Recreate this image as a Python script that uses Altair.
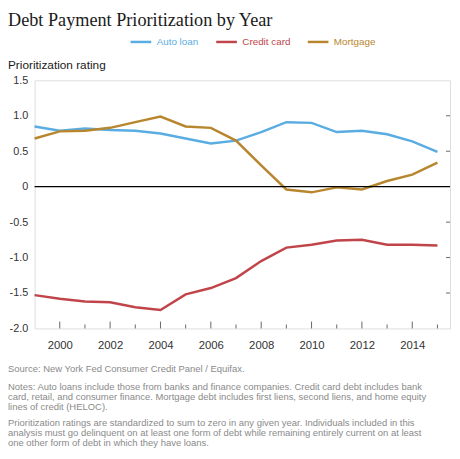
import altair as alt
import pandas as pd

years = list(range(1999, 2016))
auto_loan = [0.85, 0.79, 0.82, 0.80, 0.79, 0.75, 0.68, 0.61, 0.65, 0.77, 0.91, 0.90, 0.77, 0.79, 0.74, 0.64, 0.49]
credit_card = [-1.53, -1.58, -1.62, -1.63, -1.70, -1.74, -1.52, -1.43, -1.29, -1.05, -0.86, -0.82, -0.76, -0.75, -0.82, -0.82, -0.83]
mortgage = [0.68, 0.78, 0.79, 0.83, 0.91, 0.99, 0.85, 0.83, 0.65, 0.30, -0.04, -0.08, -0.01, -0.04, 0.08, 0.17, 0.34]

series_names = ["Auto loan", "Credit card", "Mortgage"]
series_colors = ["#5aade2", "#c0454a", "#b8862e"]
y_ticks = [-2.0, -1.5, -1.0, -0.5, 0.0, 0.5, 1.0, 1.5]
x_label_years = [2000, 2002, 2004, 2006, 2008, 2010, 2012, 2014]

title_text = "Debt Payment Prioritization by Year"
y_title = "Prioritization rating"
source_lines = ["Source: New York Fed Consumer Credit Panel / Equifax."]
notes_lines = [
    "Notes: Auto loans include those from banks and finance companies. Credit card debt includes bank",
    "card, retail, and consumer finance. Mortgage debt includes first liens, second liens, and home equity",
    "lines of credit (HELOC).",
]
rating_lines = [
    "Prioritization ratings are standardized to sum to zero in any given year. Individuals included in this",
    "analysis must go delinquent on at least one form of debt while remaining entirely current on at least",
    "one other form of debt in which they have loans.",
]

rows = []
for name, vals in zip(series_names, [auto_loan, credit_card, mortgage]):
    for yr, v in zip(years, vals):
        rows.append({"year": yr, "value": v, "series": name})
df = pd.DataFrame(rows)

W, H = 422, 252
FONT = "Liberation Sans"

xscale = alt.Scale(domain=[1999, 2015.5], nice=False, zero=False)
yscale = alt.Scale(domain=[-2.0, 1.5], nice=False, zero=False)

x_axis = alt.Axis(values=x_label_years, format="d", tickSize=0, domain=False, grid=False,
                  labelPadding=11, labelFontSize=11.5, labelColor="#333333", labelFont=FONT,
                  title=None)
y_axis = alt.Axis(values=y_ticks, tickSize=0, domain=False, grid=False, labelPadding=7,
                  labelFontSize=11, labelColor="#333333", labelFont=FONT, title=None,
                  labelExpr="datum.value == 0 ? '0' : (datum.value < 0 ? '-' : '') + format(abs(datum.value), '.1f')")

label_color_expr = " : ".join(
    f"datum.value === '{n}' ? '{c}'" for n, c in zip(series_names[:-1], series_colors[:-1])
) + f" : '{series_colors[-1]}'"

lines = alt.Chart(df).mark_line(strokeWidth=2.5).encode(
    x=alt.X("year:Q", scale=xscale, axis=x_axis),
    y=alt.Y("value:Q", scale=yscale, axis=y_axis),
    color=alt.Color("series:N", scale=alt.Scale(domain=series_names, range=series_colors),
                    legend=alt.Legend(orient="none", legendX=96, legendY=-51, direction="horizontal",
                                      title=None, symbolType="stroke", symbolSize=441,
                                      symbolStrokeWidth=2.5, labelFontSize=10, labelFont=FONT,
                                      labelOffset=4, columnPadding=12, padding=0,
                                      labelColor={"expr": label_color_expr})),
)

zero_df = pd.DataFrame({"year": [1999.0], "value": [0.0]})
zero_rule = alt.Chart(zero_df).mark_rule(color="black", strokeWidth=1.2).encode(
    y=alt.Y("value:Q", scale=yscale, axis=y_axis)
)

tick_df = pd.DataFrame({"year": years})
major_ticks = alt.Chart(tick_df).transform_filter("datum.year % 2 == 0").mark_rule(
    color="#666666", strokeWidth=1).encode(
    x=alt.X("year:Q", scale=xscale, axis=x_axis),
    y=alt.value(H), y2=alt.value(H - 7),
)
minor_ticks = alt.Chart(tick_df).transform_filter("datum.year % 2 == 1 && datum.year > 1999").mark_rule(
    color="#666666", strokeWidth=1).encode(
    x=alt.X("year:Q", scale=xscale, axis=x_axis),
    y=alt.value(H), y2=alt.value(H - 4),
)
rt_df = pd.DataFrame({"value": [-1.5, -1.0, -0.5, 0.5, 1.0]})
right_ticks = alt.Chart(rt_df).mark_rule(color="#666666", strokeWidth=1).encode(
    y=alt.Y("value:Q", scale=yscale, axis=y_axis),
    x=alt.value(W - 4), x2=alt.value(W),
)

one = pd.DataFrame({"a": [0]})
title = alt.Chart(one).mark_text(align="left", baseline="alphabetic", font="Liberation Serif",
                                 fontSize=18.5, color="#1a1a1a").encode(
    x=alt.value(-27), y=alt.value(-55), text=alt.value(title_text))
ytitle = alt.Chart(one).mark_text(align="left", baseline="alphabetic", font=FONT,
                                  fontSize=12, color="#1a1a1a").encode(
    x=alt.value(-27), y=alt.value(-11.5), text=alt.value(y_title))
src = alt.Chart(one).mark_text(align="left", baseline="top", font=FONT, fontSize=9.6,
                               color="#8a8a8a").encode(
    x=alt.value(-27), y=alt.value(288), text=alt.value(source_lines))
notes = alt.Chart(one).mark_text(align="left", baseline="top", font=FONT, fontSize=9.6,
                                 lineHeight=10, color="#8a8a8a").encode(
    x=alt.value(-27), y=alt.value(307), text=alt.value(notes_lines))
rating = alt.Chart(one).mark_text(align="left", baseline="top", font=FONT, fontSize=9.6,
                                  lineHeight=10, color="#8a8a8a").encode(
    x=alt.value(-27), y=alt.value(343), text=alt.value(rating_lines))

chart = alt.layer(lines, zero_rule, major_ticks, minor_ticks, right_ticks,
                  title, ytitle, src, notes, rating).properties(
    width=W, height=H,
    autosize=alt.AutoSizeParams(type="none"),
    padding={"left": 27, "top": 70, "right": 2, "bottom": 121},
).configure_view(stroke="#b0b0b0", strokeWidth=1.5).configure(background="white")

chart.save("out.html", embed_options={"renderer": "svg", "actions": False})
